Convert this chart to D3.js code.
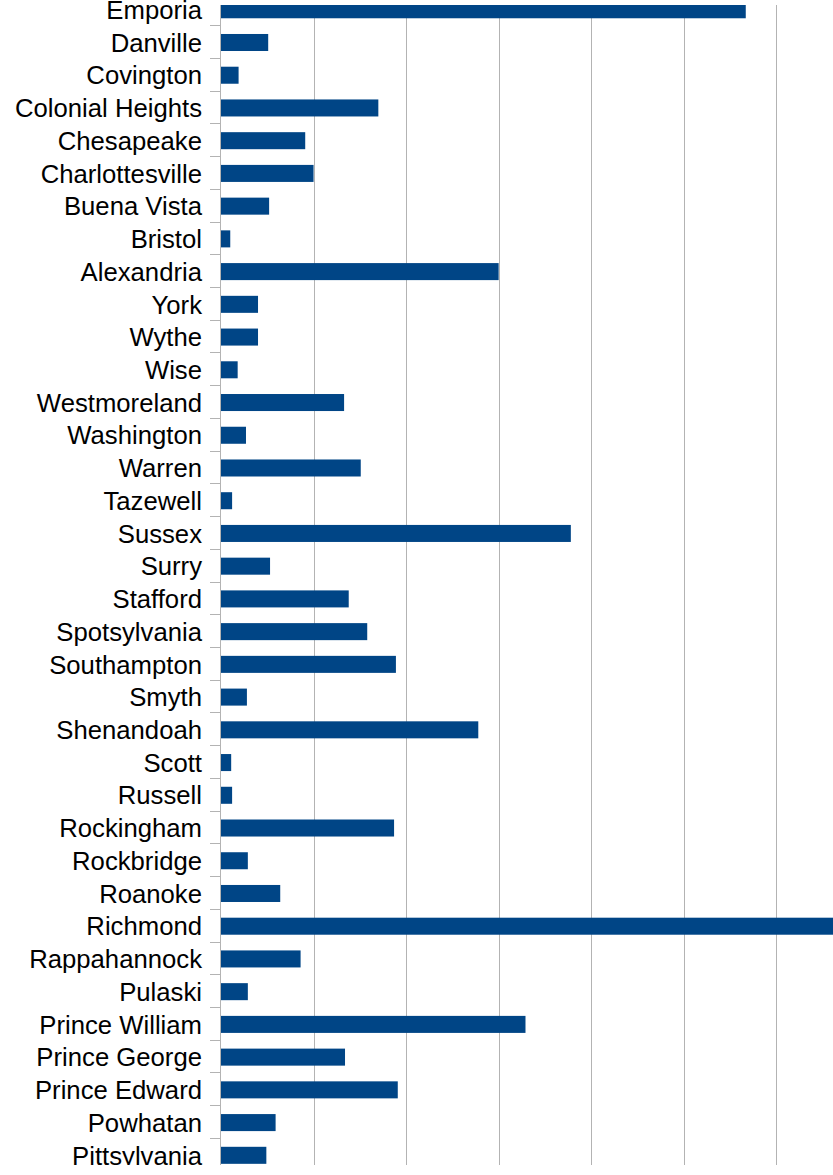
<!DOCTYPE html>
<html>
<head>
<meta charset="utf-8">
<script src="https://cdn.jsdelivr.net/npm/d3@7"></script>
<style>
  html, body { margin: 0; padding: 0; background: #ffffff; }
  svg { display: block; }
</style>
</head>
<body>
<script>
// Categories, top to bottom as drawn
const categories = [
  "Emporia", "Danville", "Covington", "Colonial Heights", "Chesapeake",
  "Charlottesville", "Buena Vista", "Bristol", "Alexandria", "York",
  "Wythe", "Wise", "Westmoreland", "Washington", "Warren", "Tazewell",
  "Sussex", "Surry", "Stafford", "Spotsylvania", "Southampton", "Smyth",
  "Shenandoah", "Scott", "Russell", "Rockingham", "Rockbridge", "Roanoke",
  "Richmond", "Rappahannock", "Pulaski", "Prince William", "Prince George",
  "Prince Edward", "Powhatan", "Pittsylvania"
];
// Values (estimated, in units where one gridline step = 10)
const values = [
  56.7, 5.1, 1.9, 17.0, 9.1,
  10.0, 5.2, 1.0, 30.0, 4.0,
  4.0, 1.8, 13.3, 2.7, 15.1, 1.2,
  37.8, 5.3, 13.8, 15.8, 18.9, 2.8,
  27.8, 1.1, 1.2, 18.7, 2.9, 6.4,
  70.0, 8.6, 2.9, 32.9, 13.4,
  19.1, 5.9, 4.9
];
const gridTicks = [0, 10, 20, 30, 40, 50, 60, 70];

const W = 833, H = 1175, visibleH = 1165;
const svg = d3.select("body").append("svg")
  .attr("width", W).attr("height", H);
svg.append("rect").attr("width", W).attr("height", H).attr("fill", "#ffffff");

const defs = svg.append("defs");
defs.append("clipPath").attr("id", "plotClip")
  .append("rect").attr("x", 0).attr("y", 5).attr("width", W).attr("height", visibleH - 5);
defs.append("clipPath").attr("id", "allClip")
  .append("rect").attr("x", 0).attr("y", 0).attr("width", W).attr("height", visibleH);

const x0 = 221, step = 32.73;
const x = d3.scaleLinear().domain([0, 70]).range([x0, x0 + 7 * 92.55]);
const y = d3.scaleBand().domain(categories)
  .range([-6.6, -6.6 + step * categories.length]).padding(0);
const barH = y.bandwidth() * 0.52;

const root = svg.append("g").attr("clip-path", "url(#allClip)");
const plot = root.append("g").attr("clip-path", "url(#plotClip)");

// gridlines
plot.selectAll("line.grid").data(gridTicks.slice(1)).enter().append("line")
  .attr("class", "grid")
  .attr("x1", d => Math.round(x(d)) + 0.5).attr("x2", d => Math.round(x(d)) + 0.5)
  .attr("y1", 5).attr("y2", visibleH)
  .attr("stroke", "#b3b3b3").attr("stroke-width", 1);

// bars
plot.selectAll("rect.bar").data(values).enter().append("rect")
  .attr("class", "bar")
  .attr("x", x(0))
  .attr("y", (d, i) => y(categories[i]) + (y.bandwidth() - barH) / 2)
  .attr("width", d => x(d) - x(0))
  .attr("height", barH)
  .attr("fill", "#004586");

// y axis line
plot.append("line")
  .attr("x1", x(0) - 0.5).attr("x2", x(0) - 0.5)
  .attr("y1", 5).attr("y2", visibleH)
  .attr("stroke", "#b3b3b3").attr("stroke-width", 1);

// tick marks at category boundaries
const boundaries = categories.map(c => y(c)).concat([y(categories[categories.length - 1]) + y.step()]);
plot.selectAll("line.tick").data(boundaries).enter().append("line")
  .attr("class", "tick")
  .attr("x1", x(0) - 11).attr("x2", x(0))
  .attr("y1", d => Math.round(d - 1) + 0.5).attr("y2", d => Math.round(d - 1) + 0.5)
  .attr("stroke", "#b3b3b3").attr("stroke-width", 1);

// labels
root.selectAll("text.lab").data(categories).enter().append("text")
  .attr("class", "lab")
  .attr("x", 202)
  .attr("y", d => y(d) + y.bandwidth() / 2)
  .attr("dy", "0.358em")
  .attr("text-anchor", "end")
  .attr("font-family", "'Liberation Sans', Arial, sans-serif")
  .attr("font-size", 25.7)
  .attr("fill", "#000000")
  .text(d => d);
</script>
</body>
</html>
